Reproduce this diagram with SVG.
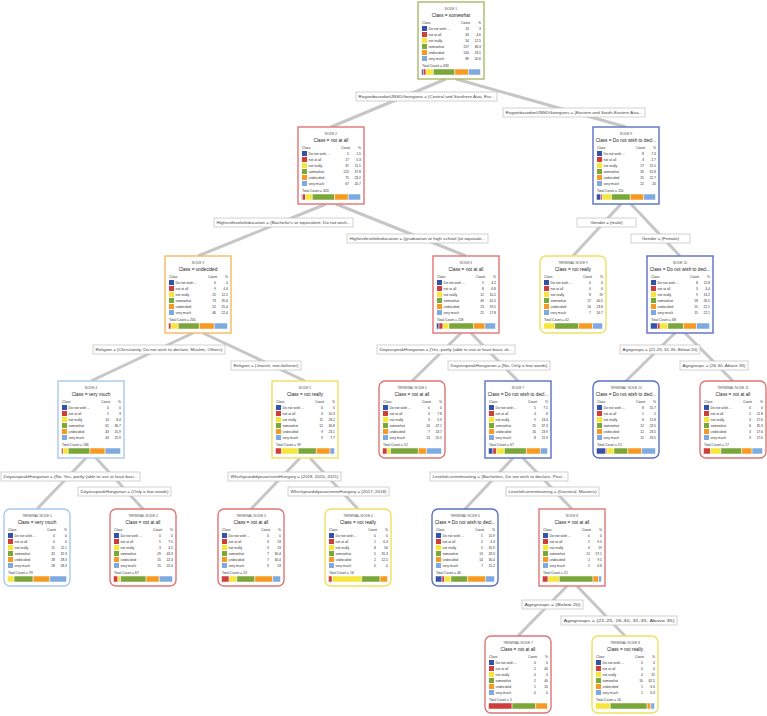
<svg xmlns="http://www.w3.org/2000/svg" xmlns:xlink="http://www.w3.org/1999/xlink" width="767" height="716" viewBox="0 0 767 716">
<style>
text{font-family:"Liberation Sans",Arial,sans-serif}
.box{fill:#fff;stroke-width:1.4}
.t{font-size:3.3px;fill:#555;text-anchor:middle}
.k{font-size:4.7px;fill:#222;text-anchor:middle}
.s{font-size:3.4px;fill:#333}
.e{text-anchor:end}
.c0{fill:#3651a8}.c1{fill:#cf3d3d}.c2{fill:#f7e63a}.c3{fill:#7aa63a}.c4{fill:#f79a22}.c5{fill:#7faae0}
.bar rect{stroke:#fff;stroke-width:0.5;vector-effect:non-scaling-stroke}
.ln{stroke:#c6c6c6;stroke-width:3;fill:none}
.lbl rect{fill:#fff;stroke:#bdbdbd;stroke-width:0.7}
.lbl text{font-size:4.4px;fill:#444;text-anchor:middle}
.bR{stroke:#e07474}.bB{stroke:#5b6fc4}.bY{stroke:#f0e060}.bO{stroke:#f5b860}.bL{stroke:#a8c8ee}.bG{stroke:#a9ba6a}
</style>
<defs>
<g id="tbl">
<text class="s" x="4" y="22">Class</text><text class="s e" x="52" y="22">Count</text><text class="s e" x="63" y="22">%</text>
<rect class="c0" x="4" y="24" width="5" height="5"/><text class="s" x="10.5" y="27.5">Do not wish ...</text>
<rect class="c1" x="4" y="30" width="5" height="5"/><text class="s" x="10.5" y="33.5">not at all</text>
<rect class="c2" x="4" y="36" width="5" height="5"/><text class="s" x="10.5" y="39.5">not really</text>
<rect class="c3" x="4" y="42" width="5" height="5"/><text class="s" x="10.5" y="45.5">somewhat</text>
<rect class="c4" x="4" y="48" width="5" height="5"/><text class="s" x="10.5" y="51.5">undecided</text>
<rect class="c5" x="4" y="54" width="5" height="5"/><text class="s" x="10.5" y="57.5">very much</text>
</g>
</defs>

<g id="connectors">
<line class="ln" x1="446" y1="79" x2="331" y2="127"/>
<line class="ln" x1="456" y1="79" x2="626" y2="127"/>
<line class="ln" x1="326" y1="204" x2="198" y2="256"/>
<line class="ln" x1="336" y1="204" x2="466" y2="256"/>
<line class="ln" x1="621" y1="204" x2="573" y2="256"/>
<line class="ln" x1="631" y1="204" x2="680" y2="256"/>
<line class="ln" x1="193" y1="333" x2="91" y2="381"/>
<line class="ln" x1="203" y1="333" x2="305" y2="381"/>
<line class="ln" x1="461" y1="333" x2="412" y2="381"/>
<line class="ln" x1="471" y1="333" x2="518" y2="381"/>
<line class="ln" x1="675" y1="333" x2="626" y2="381"/>
<line class="ln" x1="685" y1="333" x2="733" y2="381"/>
<line class="ln" x1="86" y1="458" x2="37" y2="509"/>
<line class="ln" x1="96" y1="458" x2="143" y2="509"/>
<line class="ln" x1="300" y1="458" x2="251" y2="509"/>
<line class="ln" x1="310" y1="458" x2="358" y2="509"/>
<line class="ln" x1="513" y1="458" x2="465" y2="509"/>
<line class="ln" x1="523" y1="458" x2="572" y2="509"/>
<line class="ln" x1="567" y1="586" x2="518" y2="636"/>
<line class="ln" x1="577" y1="586" x2="625" y2="636"/>
</g>

<g id="labels" class="lbl">
<rect x="356" y="92" width="141" height="9"/><text x="426.5" y="98.3" textLength="136" lengthAdjust="spacingAndGlyphs">RegionbasedonUNSDGoregions = (Central and Southern Asia, Eur...</text>
<rect x="503" y="108" width="142" height="9"/><text x="574" y="114.3" textLength="137" lengthAdjust="spacingAndGlyphs">RegionbasedonUNSDGoregions = (Eastern and South-Eastern Asia...</text>
<rect x="214" y="218" width="139" height="9"/><text x="283.5" y="224.3" textLength="134" lengthAdjust="spacingAndGlyphs">Highestlevelofeducation = (Bachelor's or equivalent, Do not wish...</text>
<rect x="347" y="234" width="141" height="9"/><text x="417.5" y="240.3" textLength="136" lengthAdjust="spacingAndGlyphs">Highestlevelofeducation = (graduation at high school (or equivale...</text>
<rect x="577" y="218" width="59" height="9"/><text x="606.5" y="224.3">Gender = (male)</text>
<rect x="631" y="234" width="59" height="9"/><text x="660.5" y="240.3">Gender = (Female)</text>
<rect x="93" y="345" width="132" height="9"/><text x="159" y="351.3" textLength="127" lengthAdjust="spacingAndGlyphs">Religion = (Christianity, Do not wish to declare, Muslim, Others)</text>
<rect x="231" y="361" width="70" height="9"/><text x="266" y="367.3" textLength="65" lengthAdjust="spacingAndGlyphs">Religion = (Jewish, non-believer)</text>
<rect x="377" y="345" width="138" height="9"/><text x="446" y="351.3" textLength="133" lengthAdjust="spacingAndGlyphs">DoyouspeakHungarian = (Yes, partly (able to use at least basic sh...</text>
<rect x="448" y="361" width="102" height="9"/><text x="499" y="367.3" textLength="97" lengthAdjust="spacingAndGlyphs">DoyouspeakHungarian = (No, Only a few words)</text>
<rect x="620" y="345" width="80" height="9"/><text x="660" y="351.3" textLength="75" lengthAdjust="spacingAndGlyphs">Agegroups = (21-25, 31-35, Below 20)</text>
<rect x="680" y="361" width="68" height="9"/><text x="714" y="367.3" textLength="63" lengthAdjust="spacingAndGlyphs">Agegroups = (26-30, Above 35)</text>
<rect x="1" y="472" width="139" height="9"/><text x="70.5" y="478.3" textLength="134" lengthAdjust="spacingAndGlyphs">DoyouspeakHungarian = (No, Yes, partly (able to use at least basi...</text>
<rect x="78" y="487" width="93" height="9"/><text x="124.5" y="493.3" textLength="88" lengthAdjust="spacingAndGlyphs">DoyouspeakHungarian = (Only a few words)</text>
<rect x="228" y="472" width="113" height="9"/><text x="284.5" y="478.3" textLength="108" lengthAdjust="spacingAndGlyphs">WhichyeardidyouarriveinHungary = (2019, 2020, 2021)</text>
<rect x="288" y="487" width="101" height="9"/><text x="338.5" y="493.3" textLength="96" lengthAdjust="spacingAndGlyphs">WhichyeardidyouarriveinHungary = (2017, 2018)</text>
<rect x="430" y="472" width="138" height="9"/><text x="499" y="478.3" textLength="133" lengthAdjust="spacingAndGlyphs">Levelofcurrenttraining = (Bachelors, Do not wish to declare, Post...</text>
<rect x="506" y="487" width="93" height="9"/><text x="552.5" y="493.3" textLength="88" lengthAdjust="spacingAndGlyphs">Levelofcurrenttraining = (Doctoral, Masters)</text>
<rect x="522" y="600" width="61" height="9"/><text x="552.5" y="606.3" textLength="56" lengthAdjust="spacingAndGlyphs">Agegroups = (Below 20)</text>
<rect x="561" y="616" width="116" height="9"/><text x="619" y="622.3" textLength="111" lengthAdjust="spacingAndGlyphs">Agegroups = (21-25, 26-30, 31-35, Above 35)</text>
</g>

<g id="node1" transform="translate(418,2)">
<rect class="box bG" width="66" height="77"/>
<text class="t" x="33" y="8">NODE 1</text><text class="k" x="33" y="15">Class = somewhat</text>
<use href="#tbl" xlink:href="#tbl"/>
<text class="s e" x="51" y="27.5">13</text><text class="s e" x="63" y="27.5">3</text>
<text class="s e" x="51" y="33.5">20</text><text class="s e" x="63" y="33.5">4.6</text>
<text class="s e" x="51" y="39.5">54</text><text class="s e" x="63" y="39.5">12.5</text>
<text class="s e" x="51" y="45.5">157</text><text class="s e" x="63" y="45.5">36.3</text>
<text class="s e" x="51" y="51.5">100</text><text class="s e" x="63" y="51.5">23.1</text>
<text class="s e" x="51" y="57.5">89</text><text class="s e" x="63" y="57.5">20.6</text>
<text class="s" x="4" y="65">Total Count = 433</text>
<g class="bar" transform="translate(3.5,67) scale(0.59,1)"><rect class="c0" x="0" width="3" height="6"/><rect class="c1" x="3" width="4.6" height="6"/><rect class="c2" x="7.6" width="12.5" height="6"/><rect class="c3" x="20.1" width="36.3" height="6"/><rect class="c4" x="56.4" width="23.1" height="6"/><rect class="c5" x="79.5" width="20.5" height="6"/></g>
</g>

<g id="node2" transform="translate(298,127)">
<rect class="box bR" width="66" height="77"/>
<text class="t" x="33" y="8">NODE 2</text><text class="k" x="33" y="15">Class = not at all</text>
<use href="#tbl" xlink:href="#tbl"/>
<text class="s e" x="51" y="27.5">5</text><text class="s e" x="63" y="27.5">1.5</text>
<text class="s e" x="51" y="33.5">17</text><text class="s e" x="63" y="33.5">5.3</text>
<text class="s e" x="51" y="39.5">37</text><text class="s e" x="63" y="39.5">11.5</text>
<text class="s e" x="51" y="45.5">122</text><text class="s e" x="63" y="45.5">37.8</text>
<text class="s e" x="51" y="51.5">75</text><text class="s e" x="63" y="51.5">23.2</text>
<text class="s e" x="51" y="57.5">67</text><text class="s e" x="63" y="57.5">20.7</text>
<text class="s" x="4" y="65">Total Count = 323</text>
<g class="bar" transform="translate(3.5,67) scale(0.59,1)"><rect class="c0" x="0" width="1.5" height="6"/><rect class="c1" x="1.5" width="5.3" height="6"/><rect class="c2" x="6.8" width="11.5" height="6"/><rect class="c3" x="18.3" width="37.8" height="6"/><rect class="c4" x="56.1" width="23.2" height="6"/><rect class="c5" x="79.3" width="20.7" height="6"/></g>
</g>

<g id="node9" transform="translate(593,127)">
<rect class="box bB" width="66" height="77"/>
<text class="t" x="33" y="8">NODE 9</text><text class="k" x="33" y="15">Class = Do not wish to decl...</text>
<use href="#tbl" xlink:href="#tbl"/>
<text class="s e" x="51" y="27.5">8</text><text class="s e" x="63" y="27.5">7.3</text>
<text class="s e" x="51" y="33.5">3</text><text class="s e" x="63" y="33.5">2.7</text>
<text class="s e" x="51" y="39.5">17</text><text class="s e" x="63" y="39.5">15.5</text>
<text class="s e" x="51" y="45.5">35</text><text class="s e" x="63" y="45.5">31.8</text>
<text class="s e" x="51" y="51.5">25</text><text class="s e" x="63" y="51.5">22.7</text>
<text class="s e" x="51" y="57.5">22</text><text class="s e" x="63" y="57.5">20</text>
<text class="s" x="4" y="65">Total Count = 110</text>
<g class="bar" transform="translate(3.5,67) scale(0.59,1)"><rect class="c0" x="0" width="7.3" height="6"/><rect class="c1" x="7.3" width="2.7" height="6"/><rect class="c2" x="10" width="15.5" height="6"/><rect class="c3" x="25.5" width="31.8" height="6"/><rect class="c4" x="57.3" width="22.7" height="6"/><rect class="c5" x="80" width="20" height="6"/></g>
</g>

<g id="node3" transform="translate(165,256)">
<rect class="box bO" width="66" height="77"/>
<text class="t" x="33" y="8">NODE 3</text><text class="k" x="33" y="15">Class = undecided</text>
<use href="#tbl" xlink:href="#tbl"/>
<text class="s e" x="51" y="27.5">0</text><text class="s e" x="63" y="27.5">0</text>
<text class="s e" x="51" y="33.5">9</text><text class="s e" x="63" y="33.5">4.4</text>
<text class="s e" x="51" y="39.5">25</text><text class="s e" x="63" y="39.5">12.2</text>
<text class="s e" x="51" y="45.5">73</text><text class="s e" x="63" y="45.5">35.6</text>
<text class="s e" x="51" y="51.5">52</text><text class="s e" x="63" y="51.5">25.4</text>
<text class="s e" x="51" y="57.5">46</text><text class="s e" x="63" y="57.5">22.4</text>
<text class="s" x="4" y="65">Total Count = 205</text>
<g class="bar" transform="translate(3.5,67) scale(0.59,1)"><rect class="c1" x="0" width="4.4" height="6"/><rect class="c2" x="4.4" width="12.2" height="6"/><rect class="c3" x="16.6" width="35.6" height="6"/><rect class="c4" x="52.2" width="25.4" height="6"/><rect class="c5" x="77.6" width="22.4" height="6"/></g>
</g>

<g id="node6" transform="translate(433,256)">
<rect class="box bR" width="66" height="77"/>
<text class="t" x="33" y="8">NODE 6</text><text class="k" x="33" y="15">Class = not at all</text>
<use href="#tbl" xlink:href="#tbl"/>
<text class="s e" x="51" y="27.5">5</text><text class="s e" x="63" y="27.5">4.2</text>
<text class="s e" x="51" y="33.5">8</text><text class="s e" x="63" y="33.5">6.8</text>
<text class="s e" x="51" y="39.5">12</text><text class="s e" x="63" y="39.5">10.2</text>
<text class="s e" x="51" y="45.5">49</text><text class="s e" x="63" y="45.5">41.5</text>
<text class="s e" x="51" y="51.5">23</text><text class="s e" x="63" y="51.5">19.5</text>
<text class="s e" x="51" y="57.5">21</text><text class="s e" x="63" y="57.5">17.8</text>
<text class="s" x="4" y="65">Total Count = 118</text>
<g class="bar" transform="translate(3.5,67) scale(0.59,1)"><rect class="c0" x="0" width="4.2" height="6"/><rect class="c1" x="4.2" width="6.8" height="6"/><rect class="c2" x="11" width="10.2" height="6"/><rect class="c3" x="21.2" width="41.5" height="6"/><rect class="c4" x="62.7" width="19.5" height="6"/><rect class="c5" x="82.2" width="17.8" height="6"/></g>
</g>

<g id="tnode9" transform="translate(540,256)">
<rect class="box bY" width="66" height="77" rx="6"/>
<text class="t" x="33" y="8">TERMINAL NODE 9</text><text class="k" x="33" y="15">Class = not really</text>
<use href="#tbl" xlink:href="#tbl"/>
<text class="s e" x="51" y="27.5">0</text><text class="s e" x="63" y="27.5">0</text>
<text class="s e" x="51" y="33.5">0</text><text class="s e" x="63" y="33.5">0</text>
<text class="s e" x="51" y="39.5">8</text><text class="s e" x="63" y="39.5">19</text>
<text class="s e" x="51" y="45.5">17</text><text class="s e" x="63" y="45.5">40.5</text>
<text class="s e" x="51" y="51.5">10</text><text class="s e" x="63" y="51.5">23.8</text>
<text class="s e" x="51" y="57.5">7</text><text class="s e" x="63" y="57.5">16.7</text>
<text class="s" x="4" y="65">Total Count = 42</text>
<g class="bar" transform="translate(3.5,67) scale(0.59,1)"><rect class="c2" x="0" width="19" height="6"/><rect class="c3" x="19" width="40.5" height="6"/><rect class="c4" x="59.5" width="23.8" height="6"/><rect class="c5" x="83.3" width="16.7" height="6"/></g>
</g>

<g id="node10" transform="translate(647,256)">
<rect class="box bB" width="66" height="77"/>
<text class="t" x="33" y="8">NODE 10</text><text class="k" x="33" y="15">Class = Do not wish to decl...</text>
<use href="#tbl" xlink:href="#tbl"/>
<text class="s e" x="51" y="27.5">8</text><text class="s e" x="63" y="27.5">11.8</text>
<text class="s e" x="51" y="33.5">3</text><text class="s e" x="63" y="33.5">4.4</text>
<text class="s e" x="51" y="39.5">9</text><text class="s e" x="63" y="39.5">13.2</text>
<text class="s e" x="51" y="45.5">18</text><text class="s e" x="63" y="45.5">26.5</text>
<text class="s e" x="51" y="51.5">15</text><text class="s e" x="63" y="51.5">22.1</text>
<text class="s e" x="51" y="57.5">15</text><text class="s e" x="63" y="57.5">22.1</text>
<text class="s" x="4" y="65">Total Count = 68</text>
<g class="bar" transform="translate(3.5,67) scale(0.59,1)"><rect class="c0" x="0" width="11.8" height="6"/><rect class="c1" x="11.8" width="4.4" height="6"/><rect class="c2" x="16.2" width="13.2" height="6"/><rect class="c3" x="29.4" width="26.5" height="6"/><rect class="c4" x="55.9" width="22.1" height="6"/><rect class="c5" x="78" width="22" height="6"/></g>
</g>

<g id="node4" transform="translate(58,381)">
<rect class="box bL" width="66" height="77"/>
<text class="t" x="33" y="8">NODE 4</text><text class="k" x="33" y="15">Class = very much</text>
<use href="#tbl" xlink:href="#tbl"/>
<text class="s e" x="51" y="27.5">0</text><text class="s e" x="63" y="27.5">0</text>
<text class="s e" x="51" y="33.5">5</text><text class="s e" x="63" y="33.5">3</text>
<text class="s e" x="51" y="39.5">14</text><text class="s e" x="63" y="39.5">8.4</text>
<text class="s e" x="51" y="45.5">61</text><text class="s e" x="63" y="45.5">36.7</text>
<text class="s e" x="51" y="51.5">43</text><text class="s e" x="63" y="51.5">25.9</text>
<text class="s e" x="51" y="57.5">43</text><text class="s e" x="63" y="57.5">25.9</text>
<text class="s" x="4" y="65">Total Count = 166</text>
<g class="bar" transform="translate(3.5,67) scale(0.59,1)"><rect class="c1" x="0" width="3" height="6"/><rect class="c2" x="3" width="8.4" height="6"/><rect class="c3" x="11.4" width="36.7" height="6"/><rect class="c4" x="48.1" width="25.9" height="6"/><rect class="c5" x="74" width="26" height="6"/></g>
</g>

<g id="node5" transform="translate(272,381)">
<rect class="box bY" width="66" height="77"/>
<text class="t" x="33" y="8">NODE 5</text><text class="k" x="33" y="15">Class = not really</text>
<use href="#tbl" xlink:href="#tbl"/>
<text class="s e" x="51" y="27.5">0</text><text class="s e" x="63" y="27.5">0</text>
<text class="s e" x="51" y="33.5">4</text><text class="s e" x="63" y="33.5">10.3</text>
<text class="s e" x="51" y="39.5">11</text><text class="s e" x="63" y="39.5">28.2</text>
<text class="s e" x="51" y="45.5">12</text><text class="s e" x="63" y="45.5">30.8</text>
<text class="s e" x="51" y="51.5">9</text><text class="s e" x="63" y="51.5">23.1</text>
<text class="s e" x="51" y="57.5">3</text><text class="s e" x="63" y="57.5">7.7</text>
<text class="s" x="4" y="65">Total Count = 39</text>
<g class="bar" transform="translate(3.5,67) scale(0.59,1)"><rect class="c1" x="0" width="10.3" height="6"/><rect class="c2" x="10.3" width="28.2" height="6"/><rect class="c3" x="38.5" width="30.8" height="6"/><rect class="c4" x="69.3" width="23.1" height="6"/><rect class="c5" x="92.4" width="7.6" height="6"/></g>
</g>

<g id="tnode5" transform="translate(379,381)">
<rect class="box bR" width="66" height="77" rx="6"/>
<text class="t" x="33" y="8">TERMINAL NODE 5</text><text class="k" x="33" y="15">Class = not at all</text>
<use href="#tbl" xlink:href="#tbl"/>
<text class="s e" x="51" y="27.5">0</text><text class="s e" x="63" y="27.5">0</text>
<text class="s e" x="51" y="33.5">4</text><text class="s e" x="63" y="33.5">7.8</text>
<text class="s e" x="51" y="39.5">3</text><text class="s e" x="63" y="39.5">5.9</text>
<text class="s e" x="51" y="45.5">24</text><text class="s e" x="63" y="45.5">47.1</text>
<text class="s e" x="51" y="51.5">7</text><text class="s e" x="63" y="51.5">13.7</text>
<text class="s e" x="51" y="57.5">13</text><text class="s e" x="63" y="57.5">25.5</text>
<text class="s" x="4" y="65">Total Count = 51</text>
<g class="bar" transform="translate(3.5,67) scale(0.59,1)"><rect class="c1" x="0" width="7.8" height="6"/><rect class="c2" x="7.8" width="5.9" height="6"/><rect class="c3" x="13.7" width="47.1" height="6"/><rect class="c4" x="60.8" width="13.7" height="6"/><rect class="c5" x="74.5" width="25.5" height="6"/></g>
</g>

<g id="node7" transform="translate(485,381)">
<rect class="box bB" width="66" height="77"/>
<text class="t" x="33" y="8">NODE 7</text><text class="k" x="33" y="15">Class = Do not wish to decl...</text>
<use href="#tbl" xlink:href="#tbl"/>
<text class="s e" x="51" y="27.5">5</text><text class="s e" x="63" y="27.5">7.5</text>
<text class="s e" x="51" y="33.5">4</text><text class="s e" x="63" y="33.5">6</text>
<text class="s e" x="51" y="39.5">9</text><text class="s e" x="63" y="39.5">13.4</text>
<text class="s e" x="51" y="45.5">25</text><text class="s e" x="63" y="45.5">37.3</text>
<text class="s e" x="51" y="51.5">16</text><text class="s e" x="63" y="51.5">23.9</text>
<text class="s e" x="51" y="57.5">8</text><text class="s e" x="63" y="57.5">11.9</text>
<text class="s" x="4" y="65">Total Count = 67</text>
<g class="bar" transform="translate(3.5,67) scale(0.59,1)"><rect class="c0" x="0" width="7.5" height="6"/><rect class="c1" x="7.5" width="6" height="6"/><rect class="c2" x="13.5" width="13.4" height="6"/><rect class="c3" x="26.9" width="37.3" height="6"/><rect class="c4" x="64.2" width="23.9" height="6"/><rect class="c5" x="88.1" width="11.9" height="6"/></g>
</g>

<g id="tnode10" transform="translate(593,381)">
<rect class="box bB" width="66" height="77" rx="6"/>
<text class="t" x="33" y="8">TERMINAL NODE 10</text><text class="k" x="33" y="15">Class = Do not wish to decl...</text>
<use href="#tbl" xlink:href="#tbl"/>
<text class="s e" x="51" y="27.5">8</text><text class="s e" x="63" y="27.5">15.7</text>
<text class="s e" x="51" y="33.5">1</text><text class="s e" x="63" y="33.5">2</text>
<text class="s e" x="51" y="39.5">6</text><text class="s e" x="63" y="39.5">11.8</text>
<text class="s e" x="51" y="45.5">12</text><text class="s e" x="63" y="45.5">23.5</text>
<text class="s e" x="51" y="51.5">12</text><text class="s e" x="63" y="51.5">23.5</text>
<text class="s e" x="51" y="57.5">12</text><text class="s e" x="63" y="57.5">23.5</text>
<text class="s" x="4" y="65">Total Count = 51</text>
<g class="bar" transform="translate(3.5,67) scale(0.59,1)"><rect class="c0" x="0" width="15.7" height="6"/><rect class="c1" x="15.7" width="2" height="6"/><rect class="c2" x="17.7" width="11.8" height="6"/><rect class="c3" x="29.5" width="23.5" height="6"/><rect class="c4" x="53" width="23.5" height="6"/><rect class="c5" x="76.5" width="23.5" height="6"/></g>
</g>

<g id="tnode11" transform="translate(700,381)">
<rect class="box bR" width="66" height="77" rx="6"/>
<text class="t" x="33" y="8">TERMINAL NODE 11</text><text class="k" x="33" y="15">Class = not at all</text>
<use href="#tbl" xlink:href="#tbl"/>
<text class="s e" x="51" y="27.5">0</text><text class="s e" x="63" y="27.5">0</text>
<text class="s e" x="51" y="33.5">2</text><text class="s e" x="63" y="33.5">11.8</text>
<text class="s e" x="51" y="39.5">3</text><text class="s e" x="63" y="39.5">17.6</text>
<text class="s e" x="51" y="45.5">6</text><text class="s e" x="63" y="45.5">35.3</text>
<text class="s e" x="51" y="51.5">3</text><text class="s e" x="63" y="51.5">17.6</text>
<text class="s e" x="51" y="57.5">3</text><text class="s e" x="63" y="57.5">17.6</text>
<text class="s" x="4" y="65">Total Count = 17</text>
<g class="bar" transform="translate(3.5,67) scale(0.59,1)"><rect class="c1" x="0" width="11.8" height="6"/><rect class="c2" x="11.8" width="17.6" height="6"/><rect class="c3" x="29.4" width="35.3" height="6"/><rect class="c4" x="64.7" width="17.6" height="6"/><rect class="c5" x="82.3" width="17.7" height="6"/></g>
</g>

<g id="tnode1" transform="translate(4,509)">
<rect class="box bL" width="66" height="77" rx="6"/>
<text class="t" x="33" y="8">TERMINAL NODE 1</text><text class="k" x="33" y="15">Class = very much</text>
<use href="#tbl" xlink:href="#tbl"/>
<text class="s e" x="51" y="27.5">0</text><text class="s e" x="63" y="27.5">0</text>
<text class="s e" x="51" y="33.5">0</text><text class="s e" x="63" y="33.5">0</text>
<text class="s e" x="51" y="39.5">11</text><text class="s e" x="63" y="39.5">11.1</text>
<text class="s e" x="51" y="45.5">32</text><text class="s e" x="63" y="45.5">32.3</text>
<text class="s e" x="51" y="51.5">28</text><text class="s e" x="63" y="51.5">28.3</text>
<text class="s e" x="51" y="57.5">28</text><text class="s e" x="63" y="57.5">28.3</text>
<text class="s" x="4" y="65">Total Count = 99</text>
<g class="bar" transform="translate(3.5,67) scale(0.59,1)"><rect class="c2" x="0" width="11.1" height="6"/><rect class="c3" x="11.1" width="32.3" height="6"/><rect class="c4" x="43.4" width="28.3" height="6"/><rect class="c5" x="71.7" width="28.3" height="6"/></g>
</g>

<g id="tnode2" transform="translate(110,509)">
<rect class="box bR" width="66" height="77" rx="6"/>
<text class="t" x="33" y="8">TERMINAL NODE 2</text><text class="k" x="33" y="15">Class = not at all</text>
<use href="#tbl" xlink:href="#tbl"/>
<text class="s e" x="51" y="27.5">0</text><text class="s e" x="63" y="27.5">0</text>
<text class="s e" x="51" y="33.5">5</text><text class="s e" x="63" y="33.5">7.5</text>
<text class="s e" x="51" y="39.5">3</text><text class="s e" x="63" y="39.5">4.5</text>
<text class="s e" x="51" y="45.5">29</text><text class="s e" x="63" y="45.5">43.3</text>
<text class="s e" x="51" y="51.5">15</text><text class="s e" x="63" y="51.5">22.4</text>
<text class="s e" x="51" y="57.5">15</text><text class="s e" x="63" y="57.5">22.4</text>
<text class="s" x="4" y="65">Total Count = 67</text>
<g class="bar" transform="translate(3.5,67) scale(0.59,1)"><rect class="c1" x="0" width="7.5" height="6"/><rect class="c2" x="7.5" width="4.5" height="6"/><rect class="c3" x="12" width="43.3" height="6"/><rect class="c4" x="55.3" width="22.4" height="6"/><rect class="c5" x="77.7" width="22.3" height="6"/></g>
</g>

<g id="tnode3" transform="translate(218,509)">
<rect class="box bR" width="66" height="77" rx="6"/>
<text class="t" x="33" y="8">TERMINAL NODE 3</text><text class="k" x="33" y="15">Class = not at all</text>
<use href="#tbl" xlink:href="#tbl"/>
<text class="s e" x="51" y="27.5">0</text><text class="s e" x="63" y="27.5">0</text>
<text class="s e" x="51" y="33.5">3</text><text class="s e" x="63" y="33.5">13</text>
<text class="s e" x="51" y="39.5">3</text><text class="s e" x="63" y="39.5">13</text>
<text class="s e" x="51" y="45.5">7</text><text class="s e" x="63" y="45.5">30.4</text>
<text class="s e" x="51" y="51.5">7</text><text class="s e" x="63" y="51.5">30.4</text>
<text class="s e" x="51" y="57.5">3</text><text class="s e" x="63" y="57.5">13</text>
<text class="s" x="4" y="65">Total Count = 23</text>
<g class="bar" transform="translate(3.5,67) scale(0.59,1)"><rect class="c1" x="0" width="13" height="6"/><rect class="c2" x="13" width="13" height="6"/><rect class="c3" x="26" width="30.4" height="6"/><rect class="c4" x="56.4" width="30.4" height="6"/><rect class="c5" x="86.8" width="13.2" height="6"/></g>
</g>

<g id="tnode4" transform="translate(325,509)">
<rect class="box bY" width="66" height="77" rx="6"/>
<text class="t" x="33" y="8">TERMINAL NODE 4</text><text class="k" x="33" y="15">Class = not really</text>
<use href="#tbl" xlink:href="#tbl"/>
<text class="s e" x="51" y="27.5">0</text><text class="s e" x="63" y="27.5">0</text>
<text class="s e" x="51" y="33.5">1</text><text class="s e" x="63" y="33.5">6.3</text>
<text class="s e" x="51" y="39.5">8</text><text class="s e" x="63" y="39.5">50</text>
<text class="s e" x="51" y="45.5">5</text><text class="s e" x="63" y="45.5">31.3</text>
<text class="s e" x="51" y="51.5">2</text><text class="s e" x="63" y="51.5">12.5</text>
<text class="s e" x="51" y="57.5">0</text><text class="s e" x="63" y="57.5">0</text>
<text class="s" x="4" y="65">Total Count = 16</text>
<g class="bar" transform="translate(3.5,67) scale(0.59,1)"><rect class="c1" x="0" width="6.3" height="6"/><rect class="c2" x="6.3" width="50" height="6"/><rect class="c3" x="56.3" width="31.3" height="6"/><rect class="c4" x="87.6" width="12.4" height="6"/></g>
</g>

<g id="tnode6" transform="translate(432,509)">
<rect class="box bB" width="66" height="77" rx="6"/>
<text class="t" x="33" y="8">TERMINAL NODE 6</text><text class="k" x="33" y="15">Class = Do not wish to decl...</text>
<use href="#tbl" xlink:href="#tbl"/>
<text class="s e" x="51" y="27.5">5</text><text class="s e" x="63" y="27.5">10.9</text>
<text class="s e" x="51" y="33.5">2</text><text class="s e" x="63" y="33.5">4.3</text>
<text class="s e" x="51" y="39.5">5</text><text class="s e" x="63" y="39.5">10.9</text>
<text class="s e" x="51" y="45.5">13</text><text class="s e" x="63" y="45.5">28.3</text>
<text class="s e" x="51" y="51.5">14</text><text class="s e" x="63" y="51.5">30.4</text>
<text class="s e" x="51" y="57.5">7</text><text class="s e" x="63" y="57.5">15.2</text>
<text class="s" x="4" y="65">Total Count = 46</text>
<g class="bar" transform="translate(3.5,67) scale(0.59,1)"><rect class="c0" x="0" width="10.9" height="6"/><rect class="c1" x="10.9" width="4.3" height="6"/><rect class="c2" x="15.2" width="10.9" height="6"/><rect class="c3" x="26.1" width="28.3" height="6"/><rect class="c4" x="54.4" width="30.4" height="6"/><rect class="c5" x="84.8" width="15.2" height="6"/></g>
</g>

<g id="node8" transform="translate(539,509)">
<rect class="box bR" width="66" height="77"/>
<text class="t" x="33" y="8">NODE 8</text><text class="k" x="33" y="15">Class = not at all</text>
<use href="#tbl" xlink:href="#tbl"/>
<text class="s e" x="51" y="27.5">0</text><text class="s e" x="63" y="27.5">0</text>
<text class="s e" x="51" y="33.5">2</text><text class="s e" x="63" y="33.5">9.5</text>
<text class="s e" x="51" y="39.5">4</text><text class="s e" x="63" y="39.5">19</text>
<text class="s e" x="51" y="45.5">12</text><text class="s e" x="63" y="45.5">57.1</text>
<text class="s e" x="51" y="51.5">2</text><text class="s e" x="63" y="51.5">9.5</text>
<text class="s e" x="51" y="57.5">1</text><text class="s e" x="63" y="57.5">4.8</text>
<text class="s" x="4" y="65">Total Count = 21</text>
<g class="bar" transform="translate(3.5,67) scale(0.59,1)"><rect class="c1" x="0" width="9.5" height="6"/><rect class="c2" x="9.5" width="19" height="6"/><rect class="c3" x="28.5" width="57.1" height="6"/><rect class="c4" x="85.6" width="9.5" height="6"/><rect class="c5" x="95.1" width="4.9" height="6"/></g>
</g>

<g id="tnode7" transform="translate(485,636)">
<rect class="box bR" width="66" height="77" rx="6"/>
<text class="t" x="33" y="8">TERMINAL NODE 7</text><text class="k" x="33" y="15">Class = not at all</text>
<use href="#tbl" xlink:href="#tbl"/>
<text class="s e" x="51" y="27.5">0</text><text class="s e" x="63" y="27.5">0</text>
<text class="s e" x="51" y="33.5">2</text><text class="s e" x="63" y="33.5">40</text>
<text class="s e" x="51" y="39.5">0</text><text class="s e" x="63" y="39.5">0</text>
<text class="s e" x="51" y="45.5">2</text><text class="s e" x="63" y="45.5">40</text>
<text class="s e" x="51" y="51.5">1</text><text class="s e" x="63" y="51.5">20</text>
<text class="s e" x="51" y="57.5">0</text><text class="s e" x="63" y="57.5">0</text>
<text class="s" x="4" y="65">Total Count = 5</text>
<g class="bar" transform="translate(3.5,67) scale(0.59,1)"><rect class="c1" x="0" width="40" height="6"/><rect class="c3" x="40" width="40" height="6"/><rect class="c4" x="80" width="20" height="6"/></g>
</g>

<g id="tnode8" transform="translate(592,636)">
<rect class="box bY" width="66" height="77" rx="6"/>
<text class="t" x="33" y="8">TERMINAL NODE 8</text><text class="k" x="33" y="15">Class = not really</text>
<use href="#tbl" xlink:href="#tbl"/>
<text class="s e" x="51" y="27.5">0</text><text class="s e" x="63" y="27.5">0</text>
<text class="s e" x="51" y="33.5">0</text><text class="s e" x="63" y="33.5">0</text>
<text class="s e" x="51" y="39.5">4</text><text class="s e" x="63" y="39.5">25</text>
<text class="s e" x="51" y="45.5">10</text><text class="s e" x="63" y="45.5">62.5</text>
<text class="s e" x="51" y="51.5">1</text><text class="s e" x="63" y="51.5">6.3</text>
<text class="s e" x="51" y="57.5">1</text><text class="s e" x="63" y="57.5">6.3</text>
<text class="s" x="4" y="65">Total Count = 16</text>
<g class="bar" transform="translate(3.5,67) scale(0.59,1)"><rect class="c2" x="0" width="25" height="6"/><rect class="c3" x="25" width="62.5" height="6"/><rect class="c4" x="87.5" width="6.3" height="6"/><rect class="c5" x="93.8" width="6.2" height="6"/></g>
</g>
</svg>
